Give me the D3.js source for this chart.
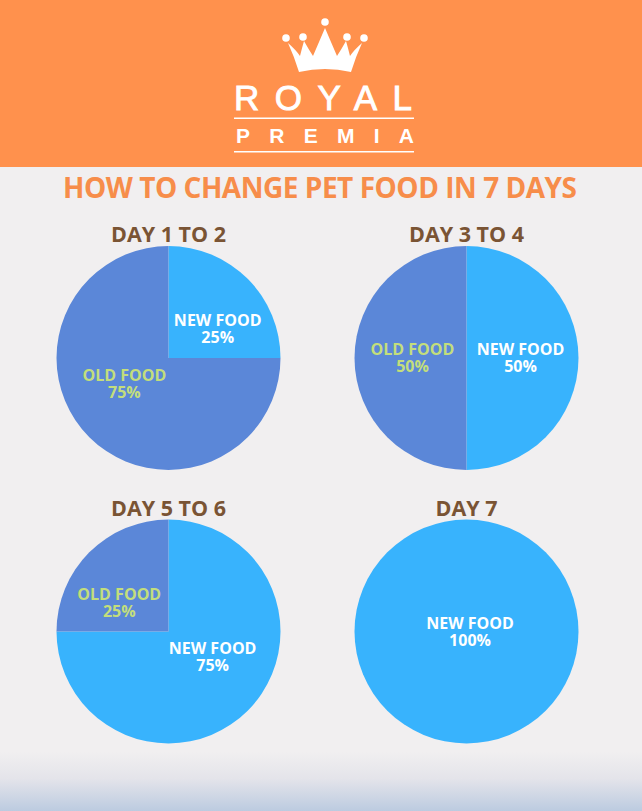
<!DOCTYPE html>
<html lang="en">
  <head>
    <meta charset="utf-8">
    <script src="https://d3js.org/d3.v7.min.js"></script>
    <style>
      body { margin: 0; background: #f1eff0; }
      svg { display: block; }
    </style>
  </head>
  <body>
    <svg id="chart" width="642" height="811"></svg>
    <script>
      // data
      var panelTitles = ["DAY 1 TO 2", "DAY 3 TO 4", "DAY 5 TO 6", "DAY 7"];
      var foods = ["NEW FOOD", "OLD FOOD"];
      var newFood = [25, 50, 75, 100];
      var oldFood = [75, 50, 25, 0];
      var mainTitle = "HOW TO CHANGE PET FOOD IN 7 DAYS";

      var svg = d3.select("svg#chart");
      var W = +svg.attr("width"), H = +svg.attr("height");

      var defs = svg.append("defs");
      var grad = defs.append("linearGradient")
        .attr("id", "bottomFade").attr("x1", 0).attr("y1", 0).attr("x2", 0).attr("y2", 1);
      grad.append("stop").attr("offset", "0%").attr("stop-color", "#f1eff0");
      grad.append("stop").attr("offset", "45%").attr("stop-color", "#e4e4ea");
      grad.append("stop").attr("offset", "100%").attr("stop-color", "#bccbe0");

      svg.append("rect").attr("width", W).attr("height", H).attr("fill", "#f1eff0");
      svg.append("rect").attr("y", 752).attr("width", W).attr("height", H - 752).attr("fill", "url(#bottomFade)");

      // header band + logo
      svg.append("rect").attr("width", W).attr("height", 167).attr("fill", "#ff914d");
      var logo = svg.append("g").attr("fill", "#fff");
      logo.append("path")
        .attr("d", "M299,72 Q294,56 288,43 Q296,50 300,56 Q302,48 304,41 Q309,50 313,56 Q319,42 325,28 Q331,42 337,56 Q341,50 346,41 Q348,48 350,56 Q354,50 362,43 Q356,56 351,72 Q325,66 299,72 Z");
      [[286, 38], [303, 37], [325, 22], [347, 37], [364, 38]].forEach(function(p) {
        logo.append("circle").attr("cx", p[0]).attr("cy", p[1]).attr("r", 3.8);
      });
      logo.append("text")
        .attr("x", 234).attr("y", 110)
        .attr("textLength", 178).attr("lengthAdjust", "spacing")
        .attr("stroke", "#fff").attr("stroke-width", 0.9)
        .style("font-family", "'Liberation Sans', Arial, sans-serif")
        .style("font-size", "35px")
        .text("ROYAL");
      logo.append("rect").attr("x", 234).attr("y", 117.5).attr("width", 180).attr("height", 1.5);
      logo.append("text")
        .attr("x", 236).attr("y", 143)
        .attr("textLength", 178).attr("lengthAdjust", "spacing")
        .style("font-family", "'Liberation Sans', Arial, sans-serif")
        .style("font-size", "21px").style("font-weight", "bold")
        .text("PREMIA");
      logo.append("rect").attr("x", 234).attr("y", 151).attr("width", 180).attr("height", 1.5);

      svg.append("text")
        .attr("x", 63).attr("y", 198)
        .attr("textLength", 514).attr("lengthAdjust", "spacing")
        .attr("fill", "#f78d4a")
        .style("font-family", "'Open Sans', sans-serif")
        .style("font-size", "28px").style("font-weight", "bold")
        .text(mainTitle);

      // pies
      var R = 112;
      var color = d3.scaleOrdinal().domain(foods).range(["#38b3fd", "#5b87d8"]);
      var textColor = d3.scaleOrdinal().domain(foods).range(["#ffffff", "#c3de7c"]);
      var col = d3.scalePoint().domain([0, 1]).range([168.5, 466.5]);
      var row = d3.scalePoint().domain([0, 1]).range([358, 631.5]);
      // label distance from centre by slice share
      var labelR = d3.scaleLinear().domain([25, 50, 75, 100]).range([58, 45, 52, 0]);

      var pie = d3.pie().sort(null).value(function(d) { return d.value; });
      var arc = d3.arc().innerRadius(0).outerRadius(R);

      panelTitles.forEach(function(title, i) {
        var cx = col(i % 2), cy = row(Math.floor(i / 2));
        var g = svg.append("g").attr("transform", "translate(" + cx + "," + cy + ")");

        g.append("text")
          .attr("y", -R - 4)
          .attr("text-anchor", "middle")
          .attr("fill", "#7a5434")
          .style("font-family", "'Open Sans', sans-serif")
          .style("font-size", "21.5px").style("font-weight", "bold")
          .text(title);

        var slices = [
          {food: foods[0], value: newFood[i]},
          {food: foods[1], value: oldFood[i]}
        ];
        var arcs = pie(slices).filter(function(d) { return d.data.value > 0; });

        g.selectAll("path")
          .data(arcs)
          .enter().append("path")
          .attr("d", arc)
          .attr("fill", function(d) { return color(d.data.food); });

        var labels = g.selectAll("text.lbl")
          .data(arcs)
          .enter().append("text")
          .attr("class", "lbl")
          .attr("text-anchor", "middle")
          .attr("fill", function(d) { return textColor(d.data.food); })
          .style("font-family", "'Open Sans', sans-serif")
          .style("font-size", "16px").style("font-weight", "bold")
          .attr("transform", function(d) {
            var r = labelR(d.data.value);
            var c = d3.arc().innerRadius(r).outerRadius(r).centroid(d);
            var x = d.data.value >= 100 ? 3.5 : c[0] * 1.2;
            var y = c[1] * 0.7;
            return "translate(" + x + "," + y + ")";
          });
        labels.append("tspan").attr("x", 0).attr("y", -2.8).text(function(d) { return d.data.food; });
        labels.append("tspan").attr("x", 0).attr("y", 14.2).text(function(d) { return d.data.value + "%"; });
      });
    </script>
  </body>
</html>
